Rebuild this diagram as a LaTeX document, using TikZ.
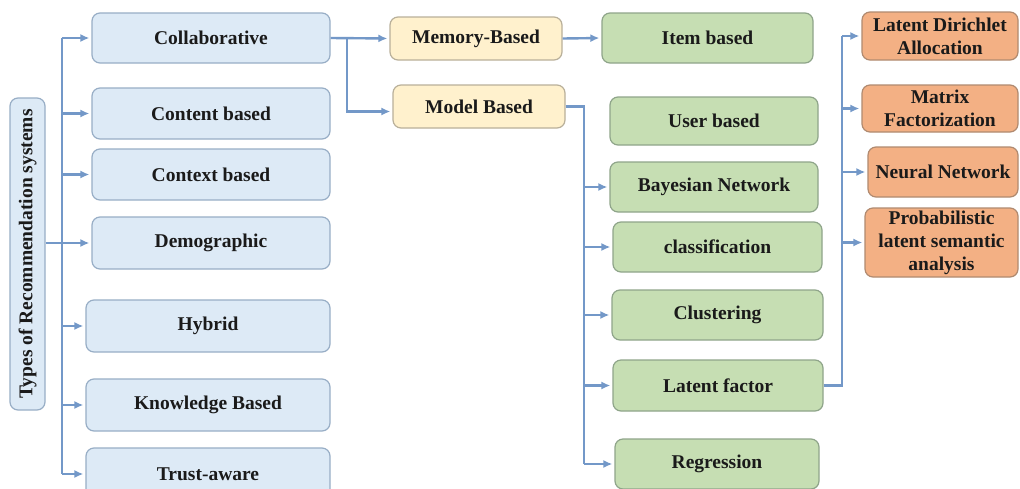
\documentclass[tikz,border=0pt]{standalone}
\usepackage{fontspec}
\setmainfont{Liberation Serif}
\usetikzlibrary{arrows.meta,calc}
\definecolor{bfill}{HTML}{DDEAF6}
\definecolor{bdraw}{HTML}{98AEC6}
\definecolor{yfill}{HTML}{FFF1CD}
\definecolor{ydraw}{HTML}{B9B09A}
\definecolor{gfill}{HTML}{C6DEB3}
\definecolor{gdraw}{HTML}{8FA58A}
\definecolor{ofill}{HTML}{F3B084}
\definecolor{odraw}{HTML}{B08A70}
\definecolor{lc}{HTML}{7398C8}
\definecolor{txt}{HTML}{1A1A1A}
\begin{document}
\begin{tikzpicture}[x=1pt,y=-1pt,
  box/.style={rounded corners=8pt, line width=1.2pt, inner sep=0pt, align=center,
    font=\fontsize{19.5}{23}\selectfont\bfseries, text=txt},
  bluebox/.style={box, fill=bfill, draw=bdraw},
  yelbox/.style={box, fill=yfill, draw=ydraw, minimum width=172, minimum height=43},
  grnbox/.style={box, fill=gfill, draw=gdraw, minimum height=50},
  orbox/.style={box, fill=ofill, draw=odraw},
  conn/.style={draw=lc, line width=2.4pt},
  arr/.style={conn, -{Latex[length=9pt,width=8pt]}, shorten >=2pt}]
\clip (0,0) rectangle (1020,488);
\fill[white] (0,0) rectangle (1020,488);

% title
\node[bluebox, minimum width=35, minimum height=312] (T) at (27.5,254)
  {\rotatebox{90}{Types of Recommendation systems}};

% blue column
\node[bluebox, minimum width=238, minimum height=50] (C)  at (211,38)    {Collaborative};
\node[bluebox, minimum width=238, minimum height=51] (CB) at (211,113.5) {Content based};
\node[bluebox, minimum width=238, minimum height=51] (CX) at (211,174.5) {Context based};
\node[bluebox, minimum width=238, minimum height=52] (D)  at (211,243)   {Demographic};
\node[bluebox, minimum width=244, minimum height=52] (H)  at (208,326)   {Hybrid};
\node[bluebox, minimum width=244, minimum height=52] (K)  at (208,405)   {Knowledge Based};
\node[bluebox, minimum width=244, minimum height=52] (Tr) at (208,474)   {Trust-aware};

% yellow
\node[yelbox] (Mem) at (476,38.5)  {Memory-Based};
\node[yelbox] (Mod) at (479,106.5) {Model Based};

% green
\node[grnbox, minimum width=211] (It)  at (707.5,38)  {Item based};
\node[grnbox, minimum width=208, minimum height=48] (Us) at (714,121) {User based};
\node[grnbox, minimum width=208] (Bay) at (714,187)   {Bayesian Network};
\node[grnbox, minimum width=209] (Cls) at (717.5,247) {classification};
\node[grnbox, minimum width=211] (Clu) at (717.5,315) {Clustering};
\node[grnbox, minimum width=210, minimum height=51] (LF) at (718,385.5) {Latent factor};
\node[grnbox, minimum width=204] (Reg) at (717,464)   {Regression};

% orange
\node[orbox, minimum width=156, minimum height=48] (LDA)  at (940,36)    {Latent Dirichlet\\Allocation};
\node[orbox, minimum width=156, minimum height=47] (MF)   at (940,108.5) {Matrix\\Factorization};
\node[orbox, minimum width=150, minimum height=50] (NN)   at (943,172)   {Neural Network};
\node[orbox, minimum width=153, minimum height=69] (PLSA) at (941.5,242.5) {Probabilistic\\latent semantic\\analysis};

% trunk from title
\coordinate (tk) at (62,0);
\draw[conn] (tk |- C.west) -- (tk |- Tr.west);
\draw[arr] (T.east |- D.west) -- (D.west);
\foreach \n in {C,CB,CX,H,K,Tr}
  \draw[arr] (tk |- \n.west) -- (\n.west);

% collaborative branches
\coordinate (cb) at (347,0);
\coordinate (modin) at ($(Mod.west)+(0,5)$);
\draw[arr] (C.east) -- (Mem.west);
\draw[arr] (cb |- C.east) -- (cb |- modin) -- (modin);
\draw[arr] (Mem.east) -- (It.west);

% model based branches
\coordinate (mb) at (584,0);
\draw[conn] (Mod.east) -- (mb |- Mod.east) -- (mb |- Reg.west);
\foreach \n in {Bay,Cls,Clu,LF,Reg}
  \draw[arr] (mb |- \n.west) -- (\n.west);

% latent factor branches
\coordinate (lb) at (842,0);
\draw[conn] (LF.east) -- (lb |- LF.east) -- (lb |- LDA.west);
\foreach \n in {LDA,MF,NN,PLSA}
  \draw[arr] (lb |- \n.west) -- (\n.west);
\end{tikzpicture}
\end{document}
